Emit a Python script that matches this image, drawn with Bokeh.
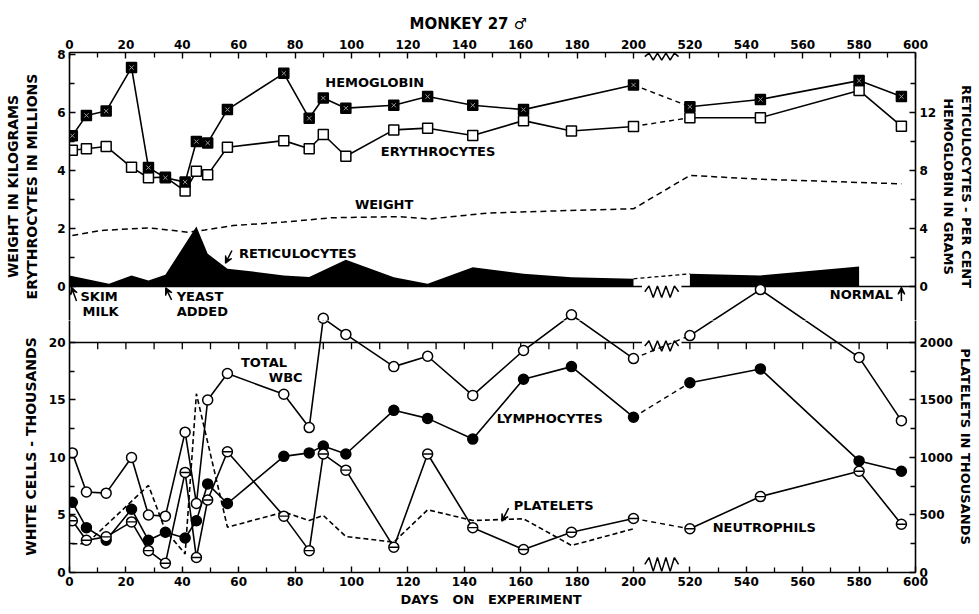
import numpy as np
from bokeh.plotting import figure
from bokeh.layouts import column
from bokeh.models import Range1d, LinearAxis, FixedTicker, Label, Arrow, VeeHead, Title
from bokeh.embed import file_html
from bokeh.resources import INLINE

FONT = "DejaVu Sans"

# ---------------- axis ticks ----------------
x_label_days = [0, 20, 40, 60, 80, 100, 120, 140, 160, 180, 200, 520, 540, 560, 580, 600]
x_minor_days = [10, 30, 50, 70, 90, 110, 130, 150, 170, 190, 530, 550, 570, 590]
weight_ticks = [0, 2, 4, 6, 8]
weight_minor = [1, 3, 5, 7]
hgb_ticks = [0, 4, 8, 12]
hgb_minor = [2, 6, 10, 14]
wbc_ticks = [0, 5, 10, 15, 20]
wbc_minor = [2.5, 7.5, 12.5, 17.5]
plt_ticks = [0, 500, 1000, 1500, 2000]
plt_minor = [250, 750, 1250, 1750]

# ---------------- upper panel data ----------------
hgb_days = [1, 6, 13, 22, 28, 34, 41, 45, 49, 56, 76, 85, 90, 98, 115, 127, 143, 161, 200, 520, 545, 580, 595]
hemoglobin = [10.4, 11.8, 12.1, 15.1, 8.2, 7.5, 7.2, 10.0, 9.9, 12.2, 14.7, 11.6, 13.0, 12.3, 12.5, 13.1, 12.5, 12.2, 13.9, 12.4, 12.9, 14.2, 13.1]

ery_days = [1, 6, 13, 22, 28, 34, 41, 45, 49, 56, 76, 85, 90, 98, 115, 127, 143, 161, 178, 200, 520, 545, 580, 595]
erythrocytes = [4.7, 4.75, 4.83, 4.11, 3.75, 3.77, 3.29, 3.97, 3.85, 4.8, 5.03, 4.75, 5.24, 4.49, 5.4, 5.46, 5.21, 5.72, 5.36, 5.52, 5.82, 5.82, 6.76, 5.53]

weight_days = [1, 11, 28, 35, 42, 48, 58, 76, 93, 117, 128, 140, 148, 177, 200, 520, 545, 595]
weight = [1.76, 1.93, 2.02, 1.95, 1.87, 1.95, 2.1, 2.22, 2.37, 2.41, 2.33, 2.45, 2.53, 2.62, 2.68, 3.83, 3.7, 3.54]

retic_days = [0, 14, 22, 28, 34, 45, 49, 56, 65, 76, 85, 98, 115, 127, 143, 161, 178, 200, 520, 545, 580]
reticulocytes = [0.76, 0.19, 0.76, 0.41, 0.8, 4.14, 2.26, 1.22, 1.03, 0.75, 0.65, 1.84, 0.64, 0.18, 1.33, 0.87, 0.64, 0.53, 0.87, 0.76, 1.38]

# ---------------- lower panel data ----------------
wbc_days = [1, 6, 13, 22, 28, 34, 41, 45, 49, 56, 76, 85, 90, 98, 115, 127, 143, 161, 178, 200, 520, 545, 580, 595]
total_wbc = [10.4, 7.0, 6.9, 10.0, 5.0, 4.9, 12.2, 6.0, 15.0, 17.3, 15.5, 12.6, 22.1, 20.7, 17.9, 18.8, 15.4, 19.3, 22.4, 18.6, 20.6, 24.6, 18.7, 13.2]
lymphocytes = [6.1, 3.9, 2.8, 5.5, 2.8, 3.5, 3.0, 4.5, 7.7, 6.0, 10.1, 10.4, 11.0, 10.3, 14.1, 13.4, 11.6, 16.8, 17.9, 13.5, 16.5, 17.7, 9.7, 8.8]
neutrophils = [4.5, 2.8, 3.1, 4.4, 1.9, 0.8, 8.7, 1.3, 6.3, 10.5, 4.9, 1.9, 10.3, 8.9, 2.2, 10.3, 3.9, 2.0, 3.5, 4.7, 3.8, 6.6, 8.8, 4.2]

platelet_days = [1, 6, 28, 34, 41, 45, 56, 76, 85, 90, 98, 115, 127, 143, 161, 178, 200]
platelets = [250, 250, 757, 365, 162, 1554, 394, 525, 452, 496, 313, 264, 545, 452, 467, 235, 380]

# ---------------- axis break / panel geometry ----------------
BREAK_FROM, BREAK_TO, BREAK_GAP = 200, 520, 20
Y_END = 45.22      # top of the chart, in white-cell units
ZERO_WBC = 24.87   # upper panel's zero line, in white-cell units
SPLIT_WBC = 21.91  # where the two canvases meet, in white-cell units
WT_END = 8.07
KG_PER_WBC = WT_END / (Y_END - ZERO_WBC)
WT_START = -(ZERO_WBC - SPLIT_WBC) * KG_PER_WBC


def xp(day):
    return day if day <= BREAK_FROM else day - (BREAK_TO - BREAK_FROM) + BREAK_GAP


X_RANGE = Range1d(xp(0), xp(600))
X_TICKS = [xp(d) for d in x_label_days]
X_MINOR = [xp(d) for d in x_minor_days]
X_OVER = {xp(d): str(d) for d in x_label_days}


def style_axis(ax, label_standoff=6, label_size="14px"):
    ax.axis_line_color = "black"
    ax.axis_line_width = 1.6
    ax.major_tick_line_color = "black"
    ax.minor_tick_line_color = "black"
    ax.major_tick_line_width = 1.4
    ax.minor_tick_line_width = 1.3
    ax.major_tick_in = 6
    ax.major_tick_out = 0
    ax.minor_tick_in = 5
    ax.minor_tick_out = 0
    ax.major_label_text_font = FONT
    ax.major_label_text_font_style = "bold"
    ax.major_label_text_font_size = "12px"
    ax.major_label_text_color = "black"
    ax.major_label_standoff = 4
    ax.axis_label_text_font = FONT
    ax.axis_label_text_font_style = "bold"
    ax.axis_label_text_font_size = label_size
    ax.axis_label_text_color = "black"
    ax.axis_label_standoff = label_standoff


def make_fig(height, y_range, border_top, border_bottom, x_loc):
    f = figure(width=977, height=height, x_range=X_RANGE, y_range=y_range,
               x_axis_location=x_loc, output_backend="svg", toolbar_location=None,
               min_border_left=69, min_border_right=56,
               min_border_top=border_top, min_border_bottom=border_bottom)
    f.outline_line_color = None
    f.xgrid.visible = False
    f.ygrid.visible = False
    style_axis(f.xaxis[0])
    f.xaxis.ticker = FixedTicker(ticks=X_TICKS, minor_ticks=X_MINOR)
    f.xaxis.major_label_overrides = X_OVER
    return f


def split(days, vals):
    pre = [(xp(d), v) for d, v in zip(days, vals) if d <= BREAK_FROM]
    post = [(xp(d), v) for d, v in zip(days, vals) if d >= BREAK_TO]
    return pre, post


def plot_series(f, days, vals, marker=None, fill="white", yr="default", size=10, dash=None):
    pre, post = split(days, vals)
    kw = dict(line_color="black", line_width=1.6, y_range_name=yr)
    if dash:
        kw["line_dash"] = dash
    for seg in (pre, post):
        if len(seg) > 1:
            f.line([s[0] for s in seg], [s[1] for s in seg], **kw)
    if pre and post:
        f.line([pre[-1][0], post[0][0]], [pre[-1][1], post[0][1]], line_color="black",
               line_width=1.4, line_dash="5 4", y_range_name=yr)
    if marker:
        f.scatter([xp(d) for d in days], vals, marker=marker, size=size, fill_color=fill,
                  line_color="black", line_width=1.5, y_range_name=yr)


def zigzag(f, y0, amp, yr="default"):
    xs = np.linspace(xp(BREAK_FROM) + 4, xp(BREAK_TO) - 4, 9)
    ys = [y0] + [y0 + amp * (1 if i % 2 else -1) for i in range(1, 8)] + [y0]
    f.line(xs, ys, line_color="black", line_width=1.5, y_range_name=yr)


def hline_with_gap(f, y, yr="default"):
    f.multi_line([[xp(0), xp(BREAK_FROM) + 3], [xp(BREAK_TO) - 3, xp(600)]],
                 [[y, y], [y, y]], line_color="black", line_width=1.5, y_range_name=yr)


def add_text(f, text, day, y, yr="default"):
    f.add_layout(Label(x=xp(day), y=y, y_range_name=yr, text=text, text_font=FONT,
                       text_font_style="bold", text_font_size="13px", text_baseline="middle",
                       text_align="left", text_color="black"))


def add_arrow(f, d0, y0, d1, y1, yr="default"):
    f.add_layout(Arrow(end=VeeHead(size=7, fill_color="black", line_color="black", line_width=1.2),
                       x_start=xp(d0), y_start=y0, x_end=xp(d1), y_end=y1, y_range_name=yr,
                       line_color="black", line_width=1.5))


# ================= upper canvas =================
p1 = make_fig(320, Range1d(WT_START, WT_END), 52, 0, "above")
p1.extra_y_ranges = {"hgb": Range1d(2 * WT_START, 2 * WT_END), "wbc": Range1d(SPLIT_WBC, Y_END)}
p1.title.text = "MONKEY 27 \u2642"
p1.title.align = "left"
p1.title.offset = 340
p1.title.standoff = 8
p1.title.text_font = FONT
p1.title.text_font_size = "15px"
p1.title.text_font_style = "bold"
p1.title.text_color = "black"

style_axis(p1.yaxis[0], label_standoff=14)
p1.yaxis.ticker = FixedTicker(ticks=weight_ticks, minor_ticks=weight_minor)
p1.yaxis.axis_label = "WEIGHT IN KILOGRAMS\nERYTHROCYTES IN MILLIONS"

ax_r1 = LinearAxis(y_range_name="hgb", ticker=FixedTicker(ticks=hgb_ticks, minor_ticks=hgb_minor),
                   axis_label="RETICULOCYTES - PER CENT\nHEMOGLOBIN IN GRAMS")
style_axis(ax_r1, label_standoff=2, label_size="13px")
p1.add_layout(ax_r1, "right")

pre, post = split(retic_days, reticulocytes)
for seg in (pre, post):
    p1.varea(x=[s[0] for s in seg], y1=0, y2=[s[1] for s in seg], fill_color="black",
             y_range_name="hgb")
p1.line([pre[-1][0], post[0][0]], [pre[-1][1], post[0][1]], line_color="black",
        line_width=1.3, line_dash="4 3", y_range_name="hgb")
hline_with_gap(p1, 0)

p1.line([xp(d) for d in weight_days], weight, line_color="black", line_width=1.5, line_dash="6 4")
plot_series(p1, ery_days, erythrocytes, marker="square", fill="white")
plot_series(p1, hgb_days, hemoglobin, marker="square", fill="black", yr="hgb")
p1.scatter([xp(d) for d in hgb_days], hemoglobin, marker="x", size=6, line_color="#9a9a9a",
           line_width=1, y_range_name="hgb")
# the part of the total white-cell curve that rises into this canvas
plot_series(p1, wbc_days, total_wbc, marker="circle", fill="white", yr="wbc")

zigzag(p1, WT_END - 0.14, 0.12)
zigzag(p1, -0.18, 0.2)

add_text(p1, "HEMOGLOBIN", 90.7, 7.03)
add_text(p1, "ERYTHROCYTES", 110.4, 4.66)
add_text(p1, "WEIGHT", 101.2, 2.83)
add_text(p1, "RETICULOCYTES", 60.1, 1.14)
add_arrow(p1, 57.6, 1.24, 55.3, 0.8)

add_text(p1, "SKIM", 3.9, 24.0, yr="wbc")
add_text(p1, "MILK", 4.6, 22.7, yr="wbc")
add_arrow(p1, 2.5, 23.6, 0.7, 24.8, yr="wbc")
add_text(p1, "YEAST", 38, 24.0, yr="wbc")
add_text(p1, "ADDED", 38, 22.7, yr="wbc")
add_arrow(p1, 36.2, 23.7, 34.1, 24.75, yr="wbc")
add_text(p1, "NORMAL", 569.6, 24.17, yr="wbc")
add_arrow(p1, 595, 23.6, 595, 24.8, yr="wbc")

# ================= lower canvas =================
p2 = make_fig(292, Range1d(0, SPLIT_WBC), 0, 40, "below")
p2.extra_y_ranges = {"plt": Range1d(0, SPLIT_WBC * 100)}
p2.add_layout(Title(text="DAYS\u00a0\u00a0\u00a0ON\u00a0\u00a0\u00a0EXPERIMENT", align="left",
                    offset=331, standoff=2, text_font=FONT, text_font_size="13px",
                    text_font_style="bold", text_color="black"), "below")

style_axis(p2.yaxis[0], label_standoff=7)
p2.yaxis.ticker = FixedTicker(ticks=wbc_ticks, minor_ticks=wbc_minor)
p2.yaxis.axis_label = "WHITE CELLS - THOUSANDS"

ax_r2 = LinearAxis(y_range_name="plt", ticker=FixedTicker(ticks=plt_ticks, minor_ticks=plt_minor),
                   axis_label="PLATELETS IN THOUSANDS")
style_axis(ax_r2, label_standoff=2, label_size="13px")
p2.add_layout(ax_r2, "right")

line20 = wbc_ticks[-1]
hline_with_gap(p2, line20)
all_tick_days = x_label_days + x_minor_days
p2.segment(x0=[xp(d) for d in all_tick_days], y0=line20, x1=[xp(d) for d in all_tick_days],
           y1=line20 - 0.6, line_color="black", line_width=1.3)
zigzag(p2, line20 - 0.3, 0.45)
zigzag(p2, 0.7, 0.6)

plot_series(p2, platelet_days, platelets, yr="plt", dash="5 3")
plot_series(p2, wbc_days, total_wbc, marker="circle", fill="white")
plot_series(p2, wbc_days, lymphocytes, marker="circle", fill="black")
plot_series(p2, wbc_days, neutrophils, marker="circle", fill="white")
p2.scatter([xp(d) for d in wbc_days], neutrophils, marker="dash", size=9, line_color="black",
           line_width=1.4)

add_text(p2, "TOTAL", 60.8, 18.26)
add_text(p2, "WBC", 70.7, 16.96)
add_text(p2, "LYMPHOCYTES", 151.5, 13.39)
add_text(p2, "PLATELETS", 157.5, 5.83)
add_arrow(p2, 155.7, 5.6, 153.3, 4.45)
add_text(p2, "NEUTROPHILS", 528.1, 3.91)

open("out.html", "w").write(file_html(column(p1, p2), INLINE))
